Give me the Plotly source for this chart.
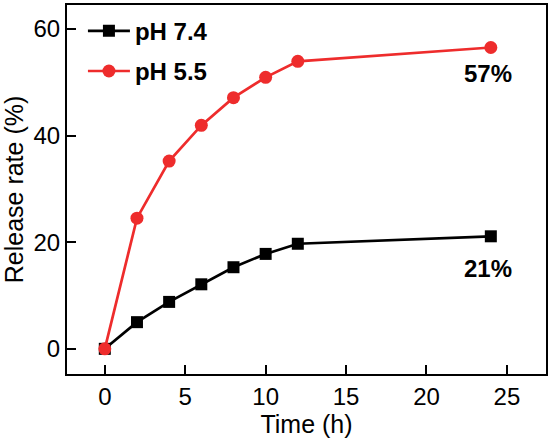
import plotly.graph_objects as go

time_h = [0, 2, 4, 6, 8, 10, 12, 24]
ph74 = [0, 5.0, 8.8, 12.1, 15.3, 17.8, 19.7, 21.1]
ph55 = [0, 24.5, 35.2, 41.9, 47.1, 50.9, 53.9, 56.5]
series_names = ["pH 7.4", "pH 5.5"]
end_labels = ["21%", "57%"]
x_ticks = [0, 5, 10, 15, 20, 25]
y_ticks = [0, 20, 40, 60]

FONT = "Arial, Liberation Sans, sans-serif"
RED = "#ee2c2c"

fig = go.Figure()
fig.add_trace(go.Scatter(
    x=time_h, y=ph74, name=series_names[0], mode="lines+markers",
    line=dict(color="black", width=2.7),
    marker=dict(symbol="square", size=12, color="black"),
    legendgroup="a",
))
fig.add_trace(go.Scatter(
    x=time_h, y=ph55, name=series_names[1], mode="lines+markers",
    line=dict(color=RED, width=2.7),
    marker=dict(symbol="circle", size=13, color=RED),
    legendgroup="b",
))

fig.add_annotation(x=time_h[-1] - 0.2, y=ph74[-1] - 6.0, text=f"<b>{end_labels[0]}</b>",
                   showarrow=False, font=dict(family=FONT, size=24, color="black"))
fig.add_annotation(x=time_h[-1] - 0.2, y=ph55[-1] - 4.9, text=f"<b>{end_labels[1]}</b>",
                   showarrow=False, font=dict(family=FONT, size=24, color="black"))

axis_common = dict(
    showline=True, linecolor="black", linewidth=2, mirror=True,
    ticks="inside", ticklen=9, tickwidth=2, tickcolor="black",
    showgrid=False, zeroline=False,
    tickfont=dict(family=FONT, size=24, color="black"),
)

fig.update_layout(
    width=551, height=441, autosize=False,
    margin=dict(l=67, r=3, t=3, b=67),
    plot_bgcolor="white", paper_bgcolor="white",
    xaxis=dict(range=[-2.35, 27.43], tickvals=x_ticks,
               title=dict(text="Time (h)", font=dict(family=FONT, size=25, color="black"), standoff=0),
               **axis_common),
    yaxis=dict(range=[-4.72, 64.47], tickvals=y_ticks,
               title=dict(text="Release rate (%)", font=dict(family=FONT, size=25, color="black"), standoff=6),
               **axis_common),
    legend=dict(x=(83 - 67) / 481, y=0.99, xanchor="left", yanchor="top",
                font=dict(family=FONT, size=24, color="black", weight="bold"),
                bgcolor="rgba(0,0,0,0)", tracegroupgap=6, itemwidth=42),
    showlegend=True,
)

fig.write_html(
    "out.html",
    config={"responsive": False, "displayModeBar": False},
    post_script="document.body.style.margin='0';document.body.style.overflow='hidden';",
)
